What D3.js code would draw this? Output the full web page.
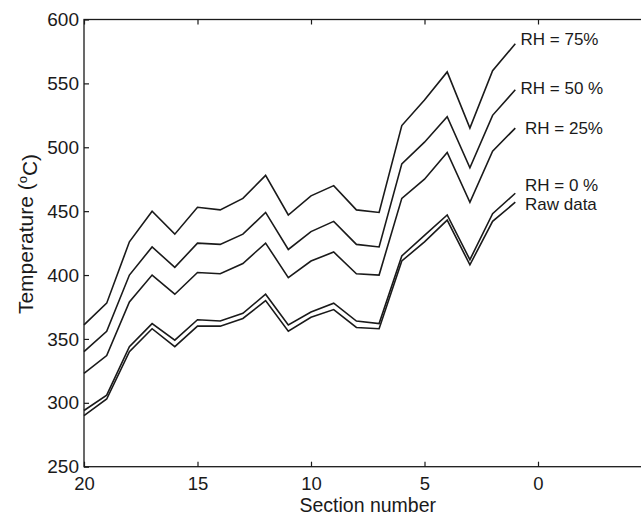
<!DOCTYPE html>
<html>
<head>
<meta charset="utf-8">
<script src="https://cdn.jsdelivr.net/npm/d3@7"></script>
<style>
  body { margin: 0; background: #fff; }
  svg { display: block; font-family: "Liberation Sans", Arial, sans-serif; }
</style>
</head>
<body>
<svg id="chart" width="641" height="516"></svg>
<script>
// section numbers, read right to left on the axis
const sections = [20, 19, 18, 17, 16, 15, 14, 13, 12, 11, 10, 9, 8, 7, 6, 5, 4, 3, 2, 1];

const rh75 = [361, 378, 426, 450, 432, 453, 451, 460, 478, 447, 462, 470, 451, 449, 517, 537, 559, 515, 560, 581];
const rh50 = [340, 356, 400, 422, 406, 425, 424, 432, 449, 420, 434, 442, 424, 422, 487, 504, 524, 484, 525, 545];
const rh25 = [323, 337, 379, 400, 385, 402, 401, 409, 425, 398, 411, 418, 401, 400, 460, 475, 496, 457, 497, 515];
const rh0  = [294, 306, 344, 362, 349, 365, 364, 370, 385, 361, 371, 378, 364, 362, 415, 431, 447, 412, 448, 464];
const raw  = [290, 303, 340, 358, 344, 360, 360, 366, 380, 356, 367, 373, 359, 358, 411, 426, 443, 408, 442, 457];

const seriesNames = ["RH = 75%", "RH = 50 %", "RH = 25%", "RH = 0 %", "Raw data"];
const seriesValues = [rh75, rh50, rh25, rh0, raw];

const xTicks = [20, 15, 10, 5, 0];
const yTicks = [250, 300, 350, 400, 450, 500, 550, 600];

const plotLeft = 84, plotRight = 651.5, plotTop = 19.5, plotBottom = 466.7;

const svg = d3.select("#chart");

const x = d3.scaleLinear().domain([20, -5]).range([plotLeft, plotRight]);
const y = d3.scaleLinear().domain([250, 600]).range([plotBottom, plotTop]);

const ink = "#1a1a1a";

// frame (right side falls outside the picture)
svg.append("rect")
  .attr("x", plotLeft).attr("y", plotTop)
  .attr("width", plotRight - plotLeft).attr("height", plotBottom - plotTop)
  .attr("fill", "none").attr("stroke", ink).attr("stroke-width", 1.3);

// inward ticks on bottom/top
const xb = svg.append("g")
  .attr("transform", `translate(0,${plotBottom})`)
  .call(d3.axisBottom(x).tickValues(xTicks).tickSizeInner(-5).tickSizeOuter(0).tickPadding(10.5));
const xt = svg.append("g")
  .attr("transform", `translate(0,${plotTop})`)
  .call(d3.axisTop(x).tickValues(xTicks).tickSizeInner(-5).tickSizeOuter(0).tickFormat(""));
const yl = svg.append("g")
  .attr("transform", `translate(${plotLeft},0)`)
  .call(d3.axisLeft(y).tickValues(yTicks).tickSizeInner(-5).tickSizeOuter(0).tickPadding(5));

[xb, xt, yl].forEach(g => {
  g.select(".domain").remove();
  g.selectAll("line").attr("stroke", ink).attr("stroke-width", 1.2);
  g.selectAll("text")
    .attr("fill", ink)
    .style("font-size", "19px")
    .style("font-family", "'Liberation Sans', Arial, sans-serif");
});
xb.selectAll("text").style("font-size", "18.5px");

// lines
const line = d3.line()
  .x((d, i) => x(sections[i]))
  .y(d => y(d));

svg.selectAll(".series")
  .data(seriesValues)
  .enter()
  .append("path")
  .attr("class", "series")
  .attr("d", d => line(d))
  .attr("fill", "none")
  .attr("stroke", ink)
  .attr("stroke-width", 1.6)
  .attr("stroke-linejoin", "miter");

// labels next to line ends
const labelPos = [
  { x: 520.5, y: 45 },
  { x: 520.5, y: 94 },
  { x: 525, y: 134 },
  { x: 525, y: 191 },
  { x: 525, y: 210 }
];

svg.selectAll(".lab")
  .data(seriesNames)
  .enter()
  .append("text")
  .attr("class", "lab")
  .attr("x", (d, i) => labelPos[i].x)
  .attr("y", (d, i) => labelPos[i].y)
  .attr("fill", ink)
  .style("font-size", "17px")
  .text(d => d);

// axis titles
svg.append("text")
  .attr("x", (plotLeft + plotRight) / 2)
  .attr("y", 511.5)
  .attr("text-anchor", "middle")
  .attr("fill", ink)
  .style("font-size", "19.5px")
  .text("Section number");

const yLab = svg.append("text")
  .attr("transform", `translate(33,234) rotate(-90)`)
  .attr("text-anchor", "middle")
  .attr("fill", ink)
  .style("font-size", "21px");
yLab.append("tspan").text("Temperature (");
yLab.append("tspan").attr("dy", "-0.45em").style("font-size", "13px").text("o");
yLab.append("tspan").attr("dy", "0.45em").text("C)");
</script>
</body>
</html>
